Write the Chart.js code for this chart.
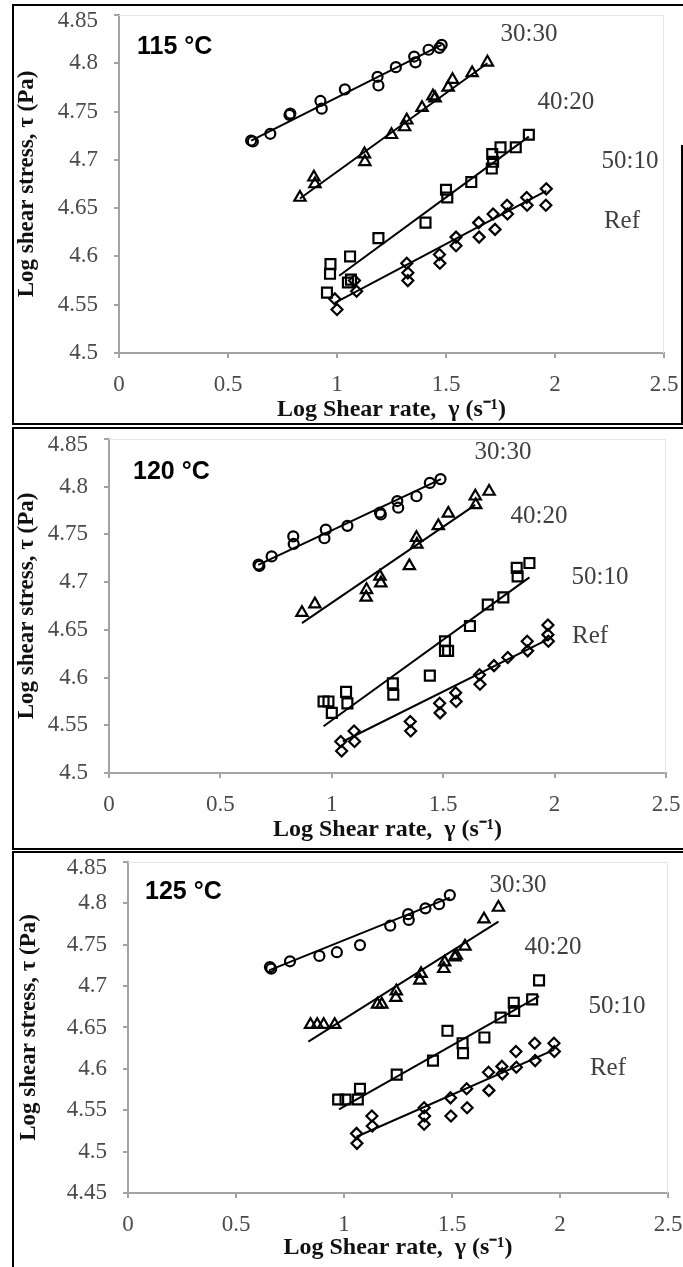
<!DOCTYPE html>
<html>
<head>
<meta charset="utf-8">
<script src="https://cdn.jsdelivr.net/npm/chart.js@4.4.1/dist/chart.umd.min.js"></script>
<style>
    body { margin: 0; background: #ffffff; }
    .page { position: relative; width: 683px; height: 1267px; overflow: hidden; background: #ffffff; }
    .frame { position: absolute; border: 2px solid #000000; border-right: none; box-sizing: border-box; }
    canvas { position: absolute; left: 0; }
</style>
</head>
<body>
<div class="page">
    <div class="frame" style="left:12px; top:4px; width:671px; height:421px;"></div>
    <div style="position:absolute; left:681px; top:145px; width:2px; height:280px; background:#000;"></div>
    <div class="frame" style="left:12px; top:427px; width:671px; height:423px;"></div>
    <div class="frame" style="left:12px; top:851px; width:671px; height:430px;"></div>
    <canvas id="chart115" width="683" height="425" style="top:0px"></canvas>
    <canvas id="chart120" width="683" height="425" style="top:425px"></canvas>
    <canvas id="chart125" width="683" height="417" style="top:850px"></canvas>
</div>
<script>
const xTickLabels = ["0", "0.5", "1", "1.5", "2", "2.5"];
const yTickLabels = ["4.45", "4.5", "4.55", "4.6", "4.65", "4.7", "4.75", "4.8", "4.85"];
const seriesNames = ["30:30", "40:20", "50:10", "Ref"];
const panelTitles = ["115 °C", "120 °C", "125 °C"];

// 115 °C  [log shear rate, log shear stress]
const circles115 = [[0.606, 4.720], [0.614, 4.719], [0.694, 4.727], [0.782, 4.7465], [0.786, 4.748], [0.924, 4.761], [0.930, 4.753], [1.036, 4.773], [1.186, 4.786], [1.190, 4.777], [1.270, 4.796], [1.354, 4.807], [1.360, 4.801], [1.420, 4.814], [1.470, 4.816], [1.480, 4.819]];
const triangles115 = [[0.830, 4.661], [0.894, 4.682], [0.899, 4.675], [1.126, 4.706], [1.128, 4.698], [1.250, 4.726], [1.310, 4.734], [1.320, 4.741], [1.390, 4.754], [1.440, 4.766], [1.450, 4.764], [1.510, 4.775], [1.530, 4.783], [1.620, 4.790], [1.690, 4.801]];
const squares115 = [[0.954, 4.5625], [0.970, 4.592], [0.968, 4.582], [1.060, 4.600], [1.050, 4.573], [1.064, 4.576], [1.190, 4.619], [1.406, 4.635], [1.500, 4.669], [1.506, 4.661], [1.616, 4.677], [1.710, 4.691], [1.712, 4.706], [1.716, 4.698], [1.750, 4.713], [1.820, 4.713], [1.880, 4.726]];
const diamonds115 = [[0.990, 4.556], [1.000, 4.545], [1.080, 4.575], [1.090, 4.564], [1.320, 4.593], [1.325, 4.583], [1.325, 4.575], [1.470, 4.602], [1.472, 4.593], [1.546, 4.620], [1.546, 4.611], [1.650, 4.635], [1.652, 4.620], [1.716, 4.644], [1.725, 4.628], [1.780, 4.653], [1.782, 4.644], [1.870, 4.661], [1.872, 4.653], [1.960, 4.670], [1.958, 4.653]];
const fits115 = [
    [[0.606, 4.720], [1.480, 4.819]],
    [[0.830, 4.660], [1.690, 4.800]],
    [[1.010, 4.580], [1.880, 4.724]],
    [[0.990, 4.552], [1.960, 4.668]],
];

// 120 °C
const circles120 = [[0.671, 4.7185], [0.675, 4.717], [0.730, 4.727], [0.827, 4.748], [0.829, 4.740], [0.973, 4.755], [0.967, 4.746], [1.070, 4.759], [1.216, 4.773], [1.220, 4.771], [1.294, 4.785], [1.298, 4.778], [1.380, 4.790], [1.440, 4.804], [1.488, 4.808]];
const triangles120 = [[0.866, 4.668], [0.924, 4.677], [1.154, 4.684], [1.156, 4.692], [1.216, 4.706], [1.220, 4.699], [1.348, 4.717], [1.380, 4.7465], [1.382, 4.7395], [1.478, 4.759], [1.523, 4.772], [1.644, 4.790], [1.646, 4.781], [1.706, 4.795]];
const squares120 = [[0.963, 4.575], [0.985, 4.575], [1.000, 4.563], [1.064, 4.585], [1.070, 4.573], [1.274, 4.594], [1.276, 4.582], [1.440, 4.602], [1.508, 4.638], [1.508, 4.628], [1.522, 4.628], [1.620, 4.654], [1.700, 4.6765], [1.770, 4.684], [1.830, 4.715], [1.834, 4.706], [1.887, 4.720]];
const diamonds120 = [[1.040, 4.533], [1.044, 4.523], [1.100, 4.544], [1.102, 4.533], [1.352, 4.554], [1.354, 4.544], [1.484, 4.573], [1.486, 4.563], [1.556, 4.584], [1.558, 4.575], [1.663, 4.603], [1.665, 4.593], [1.728, 4.6125], [1.790, 4.621], [1.877, 4.638], [1.879, 4.628], [1.970, 4.655], [1.970, 4.645], [1.972, 4.638]];
const fits120 = [
    [[0.670, 4.718], [1.490, 4.808]],
    [[0.866, 4.657], [1.644, 4.781]],
    [[0.963, 4.549], [1.887, 4.705]],
    [[1.050, 4.533], [1.970, 4.640]],
];

// 125 °C
const circles125 = [[0.657, 4.723], [0.663, 4.721], [0.750, 4.730], [0.886, 4.7365], [0.967, 4.741], [1.074, 4.7496], [1.214, 4.773], [1.297, 4.787], [1.300, 4.780], [1.377, 4.794], [1.440, 4.799], [1.490, 4.810]];
const triangles125 = [[0.845, 4.6534], [0.876, 4.6534], [0.906, 4.6534], [0.957, 4.6534], [1.155, 4.678], [1.175, 4.678], [1.240, 4.686], [1.242, 4.694], [1.351, 4.707], [1.357, 4.715], [1.462, 4.721], [1.466, 4.729], [1.513, 4.735], [1.520, 4.737], [1.560, 4.748], [1.648, 4.781], [1.715, 4.795]];
const squares125 = [[0.973, 4.563], [1.007, 4.563], [1.064, 4.563], [1.074, 4.576], [1.244, 4.593], [1.412, 4.610], [1.479, 4.646], [1.549, 4.631], [1.551, 4.619], [1.650, 4.638], [1.725, 4.662], [1.786, 4.680], [1.788, 4.670], [1.871, 4.684], [1.903, 4.707]];
const diamonds125 = [[1.058, 4.522], [1.060, 4.510], [1.129, 4.543], [1.131, 4.531], [1.371, 4.553], [1.373, 4.543], [1.371, 4.533], [1.493, 4.565], [1.495, 4.543], [1.568, 4.576], [1.570, 4.553], [1.669, 4.596], [1.671, 4.574], [1.731, 4.603], [1.733, 4.594], [1.796, 4.621], [1.798, 4.602], [1.883, 4.631], [1.885, 4.610], [1.972, 4.631], [1.974, 4.621]];
const fits125 = [
    [[0.653, 4.719], [1.490, 4.807]],
    [[0.835, 4.633], [1.715, 4.778]],
    [[0.977, 4.551], [1.903, 4.688]],
    [[1.058, 4.518], [1.972, 4.623]],
];

// where the series names and the temperature sit, in axis units
const namePos115 = [[1.881, 4.830], [2.050, 4.759], [2.344, 4.698], [2.307, 4.636]];
const namePos120 = [[1.768, 4.836], [1.930, 4.769], [2.204, 4.705], [2.159, 4.643]];
const namePos125 = [[1.806, 4.822], [1.968, 4.747], [2.264, 4.676], [2.222, 4.601]];
const tempPos = [[0.083, 4.817], [0.108, 4.815], [0.079, 4.814]];

const markerStyles = [
    { pointStyle: "circle", radius: 5 },
    { pointStyle: "triangle", radius: 6.5 },
    { pointStyle: "rect", radius: 7 },
    { pointStyle: "rectRot", radius: 5.5 },
];

const SERIF = "'Liberation Serif', 'Times New Roman', serif";
const AXIS_GREY = "#a3a3a3";
const TOP_TICK = "4.85";

const panelText = {
    id: "panelText",
    beforeDatasetsDraw(chart) {
        const { ctx, chartArea } = chart;
        ctx.save();
        ctx.strokeStyle = "#e6e6e6";
        ctx.lineWidth = 1;
        ctx.beginPath();
        ctx.moveTo(chartArea.left, chartArea.top + 0.5);
        ctx.lineTo(chartArea.right - 0.5, chartArea.top + 0.5);
        ctx.lineTo(chartArea.right - 0.5, chartArea.bottom);
        ctx.stroke();
        ctx.restore();
    },
    afterDatasetsDraw(chart, args, opts) {
        const { ctx } = chart;
        const xs = chart.scales.x;
        const ys = chart.scales.y;
        ctx.save();
        ctx.font = "25px " + SERIF;
        ctx.fillStyle = "#404040";
        ctx.textAlign = "center";
        ctx.textBaseline = "middle";
        opts.names.forEach((name, i) => {
            const [vx, vy] = opts.namePos[i];
            ctx.fillText(name, xs.getPixelForValue(vx), ys.getPixelForValue(vy));
        });
        ctx.font = "bold 25px 'Liberation Sans', Arial, sans-serif";
        ctx.fillStyle = "#000000";
        ctx.textAlign = "left";
        ctx.fillText(
            opts.temp,
            xs.getPixelForValue(opts.tempPos[0]),
            ys.getPixelForValue(opts.tempPos[1]),
        );
        ctx.restore();
    },
};

function findLabel(list, value) {
    return list.find((t) => Math.abs(Number(t) - value) < 1e-6) ?? "";
}

function toPoints(pairs) {
    return pairs.map(([x, y]) => ({ x, y }));
}

function createPanel(canvasId, panel) {
    const { box } = panel;
    const datasets = [];
    panel.series.forEach((pairs, i) => {
        datasets.push({
            label: seriesNames[i],
            data: toPoints(pairs),
            pointStyle: markerStyles[i].pointStyle,
            pointRadius: markerStyles[i].radius,
            pointBorderWidth: 2.2,
            pointBorderColor: "#000000",
            pointBackgroundColor: "rgba(0,0,0,0)",
            showLine: false,
        });
    });
    panel.fits.forEach((pairs, i) => {
        datasets.push({
            label: seriesNames[i] + " fit",
            data: toPoints(pairs),
            showLine: true,
            borderColor: "#000000",
            borderWidth: 2,
            pointRadius: 0,
        });
    });

    const ctx = document.getElementById(canvasId).getContext("2d");
    new Chart(ctx, {
        type: "scatter",
        data: { datasets },
        plugins: [panelText],
        options: {
            responsive: false,
            animation: false,
            layout: {
                padding: { left: 0, top: box.top, right: 683 - box.right, bottom: 0 },
            },
            plugins: {
                legend: { display: false },
                tooltip: { enabled: false },
                panelText: {
                    names: seriesNames,
                    namePos: panel.namePos,
                    temp: panel.temp,
                    tempPos: panel.tempPos,
                },
            },
            scales: {
                x: {
                    type: "linear",
                    min: 0,
                    max: 2.5,
                    afterFit: (scale) => {
                        scale.height = box.height - box.bottom;
                        // end labels may run into the layout padding
                        scale.paddingLeft = 0;
                        scale.paddingRight = 0;
                    },
                    ticks: {
                        stepSize: 0.5,
                        callback: (value) => findLabel(xTickLabels, value),
                        font: { family: SERIF, size: 23, lineHeight: 1 },
                        color: "#4a4a4a",
                        padding: 15,
                        maxRotation: 0,
                    },
                    grid: {
                        drawOnChartArea: false,
                        tickLength: 5,
                        color: AXIS_GREY,
                        lineWidth: 2,
                    },
                    border: { color: AXIS_GREY, width: 2 },
                    title: {
                        display: true,
                        text: "Log Shear rate,  γ (s⁻¹)",
                        font: { family: SERIF, size: 24, weight: "bold", lineHeight: 1 },
                        color: "#111111",
                        padding: { top: 0, bottom: box.xTitlePad },
                    },
                },
                y: {
                    type: "linear",
                    min: panel.yMin,
                    max: 4.85,
                    afterFit: (scale) => {
                        scale.width = box.left;
                        scale.paddingTop = 0;
                        scale.paddingBottom = 0;
                    },
                    ticks: {
                        stepSize: 0.05,
                        // the top label sits a little below its tick, as in the original
                        callback: (value) => {
                            const label = findLabel(yTickLabels, value);
                            return label === TOP_TICK ? ["", label] : label;
                        },
                        font: (c) => ({
                            family: SERIF,
                            size: 23,
                            lineHeight: c.tick && findLabel(yTickLabels, c.tick.value) === TOP_TICK ? 0.5 : 1,
                        }),
                        color: "#4a4a4a",
                        padding: 16,
                    },
                    grid: {
                        drawOnChartArea: false,
                        tickLength: 5,
                        color: AXIS_GREY,
                        lineWidth: 2,
                    },
                    border: { color: AXIS_GREY, width: 2 },
                    title: {
                        display: true,
                        text: "Log shear stress, τ (Pa)",
                        font: { family: SERIF, size: 23, weight: "bold", lineHeight: 1 },
                        color: "#111111",
                        padding: { top: box.yTitlePad, bottom: 0 },
                    },
                },
            },
        },
    });
}

createPanel("chart115", {
    series: [circles115, triangles115, squares115, diamonds115],
    fits: fits115,
    namePos: namePos115,
    temp: panelTitles[0],
    tempPos: tempPos[0],
    yMin: 4.5,
    box: { left: 119, right: 664, top: 15, bottom: 353, height: 425, xTitlePad: 3, yTitlePad: 16 },
});
createPanel("chart120", {
    series: [circles120, triangles120, squares120, diamonds120],
    fits: fits120,
    namePos: namePos120,
    temp: panelTitles[1],
    tempPos: tempPos[1],
    yMin: 4.5,
    box: { left: 109, right: 666, top: 14, bottom: 348, height: 425, xTitlePad: 8, yTitlePad: 16 },
});
createPanel("chart125", {
    series: [circles125, triangles125, squares125, diamonds125],
    fits: fits125,
    namePos: namePos125,
    temp: panelTitles[2],
    tempPos: tempPos[2],
    yMin: 4.45,
    box: { left: 128, right: 668, top: 12, bottom: 343, height: 417, xTitlePad: 7, yTitlePad: 18 },
});
</script>
</body>
</html>
